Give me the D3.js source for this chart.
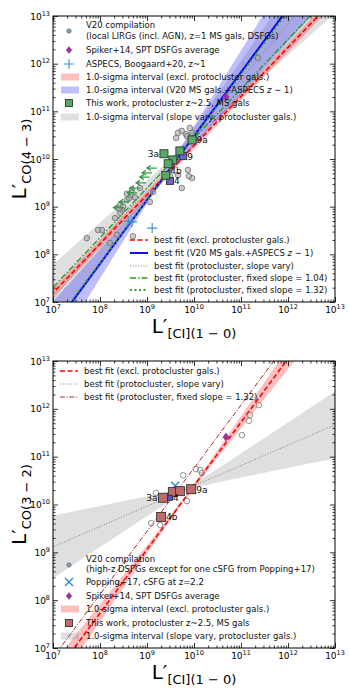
<!DOCTYPE html>
<html><head><meta charset="utf-8">
<script src="https://cdn.jsdelivr.net/npm/d3@7"></script>
<style>
body{margin:0;background:#fff}
svg{display:block;font-family:"DejaVu Sans",sans-serif}
</style></head><body>
<svg id="chart" width="349" height="698"></svg>
<script>
// all values are log10 of L' (K km/s pc^2)
const decades = [7, 8, 9, 10, 11, 12, 13];

// ---- top panel: CO(4-3) vs [CI](1-0)
const v20TopCI = [11.36, 9.96, 9.66, 9.74, 9.83, 9.91, 9.62, 9.87, 9.96, 9.74, 9.66, 9.89, 9.49, 9.13, 8.68, 8.85, 8.57, 8.57, 9.06, 8.43, 8.47, 8.49, 8.43, 8.32, 8.04, 7.96, 7.72, 8.21, 8.36, 8.70, 8.62, 8.66, 8.74, 8.40, 9.85, 10.00];
const v20TopCO = [12.12, 10.55, 10.55, 10.59, 10.52, 10.65, 10.44, 9.77, 9.60, 9.39, 9.66, 9.64, 9.64, 9.31, 9.35, 9.39, 9.27, 9.14, 9.10, 9.04, 8.93, 9.00, 8.87, 8.76, 8.51, 8.51, 8.34, 8.24, 8.41, 8.38, 9.18, 9.24, 9.20, 8.96, 10.48, 10.42];
const aspecsCI = [8.60, 8.68, 9.11];
const aspecsCO = [8.70, 8.68, 8.55];
const spikerTop = [10.68, 11.30];
const pcTopNames = ["9a", "3a", "", "", "", "4b"];
const pcTopCI = [9.96, 9.36, 9.70, 9.55, 9.45, 9.40];
const pcTopCO = [10.40, 10.11, 10.17, 9.98, 9.90, 9.66];
const msTopNames = ["9", "4"];
const msTopCI = [9.77, 9.49];
const msTopCO = [10.06, 9.54];
const ulTopCI = [9.21, 9.11, 9.06, 8.98, 8.85, 8.79, 8.62, 8.50];
const ulTopCO = [9.81, 9.71, 9.62, 9.50, 9.39, 9.29, 9.10, 8.98];

// fits: slope, intercept; bands: pivot, sigma slope, sigma intercept
const fitExclTop = [1.03, -0.02];
const fitV20Top = [1.34, -2.92];
const fitVaryTop = [1.15, -0.97];
const fitFix104Top = [1.04, 0.03];
const fitFix132Top = [1.32, -2.74];
const bandExclTop = [10.0, 0.02, 0.08];
const bandV20Top = [9.2, 0.25, 0.06];
const bandVaryTop = [9.6, 0.27, 0.05];

// ---- bottom panel: CO(3-2) vs [CI](1-0)
const v20BotCI = [11.38, 11.19, 11.17, 11.02, 9.77, 10.04, 10.13, 10.17, 9.85, 9.19, 9.09, 9.28];
const v20BotCO = [12.08, 11.87, 11.75, 11.45, 10.61, 10.74, 10.72, 10.66, 10.07, 10.24, 9.61, 9.57];
const poppingBot = [9.60, 10.39];
const spikerBot = [10.68, 11.41];
const pcBotNames = ["3a", "", "", "9a", "4b"];
const pcBotCI = [9.34, 9.55, 9.70, 9.94, 9.30];
const pcBotCO = [10.14, 10.26, 10.28, 10.32, 9.74];
const msBotNames = ["4"];
const msBotCI = [9.49];
const msBotCO = [10.14];

const fitExclBot = [1.33, -2.91];
const fitVaryBot = [0.425, 6.14];
const fitFix132Bot = [1.32, -2.44];
const bandExclBot = [9.8, 0.10, 0.04];
const bandVaryBot = [9.9, 0.225, 0.05];

const svg = d3.select("#chart");
const X0 = 53, X1 = 335;
const LFS = 8.5; // legend font size

function makePanel(top, bottom, id) {
  const x = d3.scaleLog().domain([1e7, 1e13]).range([X0, X1]);
  const y = d3.scaleLog().domain([1e7, 1e13]).range([bottom, top]);
  const g = svg.append("g");
  svg.append("clipPath").attr("id", id).append("rect")
    .attr("x", X0).attr("y", top).attr("width", X1 - X0).attr("height", bottom - top);
  const plot = g.append("g").attr("clip-path", `url(#${id})`);
  return {x, y, g, plot, top, bottom};
}

function drawBand(p, fit, band, fill) {
  const xs = d3.range(6.8, 13.25, 0.05);
  const c = v => fit[0] * v + fit[1];
  const s = v => Math.sqrt(Math.pow(band[1] * (v - band[0]), 2) + band[2] * band[2]);
  p.plot.append("path")
    .datum(xs)
    .attr("d", d3.area()
      .x(v => p.x(Math.pow(10, v)))
      .y0(v => p.y(Math.pow(10, c(v) - s(v))))
      .y1(v => p.y(Math.pow(10, c(v) + s(v)))))
    .attr("fill", fill).attr("stroke", "none");
}

function drawFit(p, fit, style) {
  const xs = [6.5, 13.5];
  p.plot.append("path")
    .datum(xs)
    .attr("d", d3.line()
      .x(v => p.x(Math.pow(10, v)))
      .y(v => p.y(Math.pow(10, fit[0] * v + fit[1]))))
    .attr("fill", "none")
    .attr("stroke", style.color)
    .attr("stroke-width", style.width)
    .attr("stroke-dasharray", style.dash || null);
}

function circles(p, xs, ys, fill, stroke, r) {
  p.plot.selectAll(null).data(xs).enter().append("circle")
    .attr("cx", (d) => p.x(Math.pow(10, d)))
    .attr("cy", (d, i) => p.y(Math.pow(10, ys[i])))
    .attr("r", r)
    .attr("fill", fill)
    .attr("stroke", stroke)
    .attr("stroke-width", 0.8);
}

function squares(p, xs, ys, names, fill, size, labelLeft, labelUp) {
  const sel = p.plot.selectAll(null).data(xs).enter();
  sel.append("rect")
    .attr("x", (d) => p.x(Math.pow(10, d)) - size / 2)
    .attr("y", (d, i) => p.y(Math.pow(10, ys[i])) - size / 2)
    .attr("width", size).attr("height", size)
    .attr("fill", fill).attr("stroke", "#333").attr("stroke-width", 0.9);
  sel.append("text")
    .attr("x", (d, i) => p.x(Math.pow(10, d)) + (labelLeft.includes(names[i]) ? -size / 2 - 1 : size / 2 + 0.5))
    .attr("y", (d, i) => p.y(Math.pow(10, ys[i])) + (labelUp.includes(names[i]) ? -1 : 3.5))
    .attr("text-anchor", (d, i) => labelLeft.includes(names[i]) ? "end" : "start")
    .attr("font-size", 9).attr("fill", "#111")
    .text((d, i) => names[i]);
}

function crossPlus(p, xs, ys, color) {
  p.plot.selectAll(null).data(xs).enter().append("path")
    .attr("d", (d, i) => {
      const cx = p.x(Math.pow(10, d)), cy = p.y(Math.pow(10, ys[i]));
      return `M${cx - 5},${cy}H${cx + 5}M${cx},${cy - 5}V${cy + 5}`;
    })
    .attr("stroke", color).attr("stroke-width", 1.1).attr("fill", "none");
}

function diamond(g, cx, cy, r, color) {
  g.append("path")
    .attr("d", `M${cx},${cy - r}L${cx + r * 0.8},${cy}L${cx},${cy + r}L${cx - r * 0.8},${cy}Z`)
    .attr("fill", color).attr("stroke", color).attr("stroke-width", 0.5);
}

function xMark(g, cx, cy, r, color) {
  g.append("path")
    .attr("d", `M${cx - r},${cy - r}L${cx + r},${cy + r}M${cx - r},${cy + r}L${cx + r},${cy - r}`)
    .attr("stroke", color).attr("stroke-width", 1.4).attr("fill", "none");
}

function upperLimits(p, xs, ys, color) {
  p.plot.selectAll(null).data(xs).enter().append("path")
    .attr("d", (d, i) => {
      const cx = p.x(Math.pow(10, d)), cy = p.y(Math.pow(10, ys[i]));
      return `M${cx},${cy}H${cx - 9}M${cx - 6},${cy - 2.5}L${cx - 10},${cy}L${cx - 6},${cy + 2.5}`;
    })
    .attr("stroke", color).attr("stroke-width", 1.3).attr("fill", "none");
}

function drawAxes(p) {
  const majors = decades.map(d => Math.pow(10, d));
  const minors = [];
  decades.slice(0, -1).forEach(d => { for (let k = 2; k < 10; k++) minors.push(k * Math.pow(10, d)); });
  const specs = [
    [d3.axisBottom(p.x), `translate(0,${p.bottom})`],
    [d3.axisTop(p.x), `translate(0,${p.top})`],
    [d3.axisLeft(p.y), `translate(${X0},0)`],
    [d3.axisRight(p.y), `translate(${X1},0)`]
  ];
  specs.forEach(([ax, tr]) => {
    [[majors, 5], [minors, 2.5]].forEach(([vals, len]) => {
      const a = p.g.append("g").attr("transform", tr)
        .call(ax.tickValues(vals).tickSize(-len).tickFormat(""));
      a.select(".domain").remove();
      a.selectAll("line").attr("stroke", "#000").attr("stroke-width", 0.8);
    });
  });
  p.g.append("rect").attr("x", X0).attr("y", p.top).attr("width", X1 - X0)
    .attr("height", p.bottom - p.top).attr("fill", "none").attr("stroke", "#000").attr("stroke-width", 1);

  // tick labels
  decades.forEach(d => {
    const tx = p.g.append("text").attr("x", p.x(Math.pow(10, d))).attr("y", p.bottom + 11)
      .attr("text-anchor", "middle").attr("font-size", 9);
    tx.append("tspan").text("10");
    tx.append("tspan").attr("dy", -4).attr("font-size", 6.5).text(d);
    const ty = p.g.append("text").attr("x", X0 - 3).attr("y", p.y(Math.pow(10, d)) + 3.5)
      .attr("text-anchor", "end").attr("font-size", 9);
    ty.append("tspan").text("10");
    ty.append("tspan").attr("dy", -4).attr("font-size", 6.5).text(d);
  });
}

function axisTitles(p, ysub) {
  const xt = p.g.append("text").attr("x", 194).attr("y", p.bottom + 31)
    .attr("text-anchor", "middle").attr("font-size", 20);
  xt.append("tspan").text("L′");
  xt.append("tspan").attr("font-size", 13).attr("dy", 5).text("[CI](1 − 0)");
  const cy = (p.top + p.bottom) / 2;
  const yt = p.g.append("text").attr("transform", `translate(26,${cy}) rotate(-90)`)
    .attr("text-anchor", "middle").attr("font-size", 20);
  yt.append("tspan").text("L′");
  yt.append("tspan").attr("font-size", 13).attr("dy", 5).text(ysub);
}

function legendText(g, x, y, txt) {
  return g.append("text").attr("x", x).attr("y", y + 3).attr("font-size", LFS).attr("fill", "#111").text(txt);
}
function legendLine(g, x, y, style, txt) {
  g.append("line").attr("x1", x).attr("x2", x + 18).attr("y1", y).attr("y2", y)
    .attr("stroke", style.color).attr("stroke-width", style.width)
    .attr("stroke-dasharray", style.dash || null);
  return legendText(g, x + 24, y, txt);
}
function legendPatch(g, x, y, fill, txt) {
  g.append("rect").attr("x", x).attr("y", y - 3.5).attr("width", 18).attr("height", 7).attr("fill", fill);
  return legendText(g, x + 25, y, txt);
}
function zText(t, before, after) {
  t.text(null);
  t.append("tspan").text(before);
  t.append("tspan").attr("font-style", "italic").text("z");
  t.append("tspan").text(after);
}

const RED = {color: "#ff0000", width: 1.6, dash: "5,2.6"};
const BLUE = {color: "#0000ff", width: 1.9};
const GRAYDOT = {color: "#808080", width: 1, dash: "1,1.7"};
const GREENDD = {color: "#22992b", width: 1.3, dash: "6,2,1.5,2"};
const GREENDOT = {color: "#2ca02c", width: 1.9, dash: "1.9,2.6"};
const DARKRED = {color: "#b22222", width: 1, dash: "5,1.6,1,1.6"};
const PINK = "rgba(255,0,0,0.25)";
const BLUEBAND = "rgba(0,0,255,0.25)";
const GRAYBAND = "rgba(128,128,128,0.25)";

// ================= top panel
const pt = makePanel(16, 302, "clipTop");
drawBand(pt, fitVaryTop, bandVaryTop, GRAYBAND);
drawBand(pt, fitExclTop, bandExclTop, PINK);
drawBand(pt, fitV20Top, bandV20Top, BLUEBAND);
drawFit(pt, fitVaryTop, GRAYDOT);
drawFit(pt, fitFix104Top, GREENDD);
drawFit(pt, fitExclTop, RED);
drawFit(pt, fitV20Top, BLUE);
drawFit(pt, fitFix132Top, GREENDOT);
circles(pt, v20TopCI, v20TopCO, "rgba(170,170,170,0.6)", "#6e6e6e", 2.8);
crossPlus(pt, aspecsCI, aspecsCO, "#3c8fd6");
diamond(pt.plot, pt.x(Math.pow(10, spikerTop[0])), pt.y(Math.pow(10, spikerTop[1])), 4, "#993399");
upperLimits(pt, ulTopCI, ulTopCO, "#3a9a4a");
squares(pt, msTopCI, msTopCO, msTopNames, "#6666cc", 7, [], []);
squares(pt, pcTopCI, pcTopCO, pcTopNames, "#55aa66", 8, ["3a"], ["4b"]);
drawAxes(pt);
axisTitles(pt, "CO(4 − 3)");

const lt = pt.g.append("g");
circles({plot: lt, x: () => 69, y: () => 31}, [0], [0], "#7f9fc0", "#777", 2.2);
legendText(lt, 86, 25, "V20 compilation");
legendText(lt, 86, 36, "(local LIRGs (incl. AGN), z=1 MS gals, DSFGs)");
diamond(lt, 69, 50, 3.5, "#993399");
legendText(lt, 86, 50, "Spiker+14, SPT DSFGs average");
lt.append("path").attr("d", "M64,64H74M69,59V69").attr("stroke", "#3c8fd6").attr("stroke-width", 1.1);
legendText(lt, 86, 64, "ASPECS, Boogaard+20, z~1");
legendPatch(lt, 61, 77, PINK, "1.0-sigma interval (excl. protocluster gals.)");
zText(legendPatch(lt, 61, 90, BLUEBAND, ""), "1.0-sigma interval (V20 MS gals.+ASPECS ", " ∼ 1)");
lt.append("rect").attr("x", 65.5).attr("y", 99.5).attr("width", 7).attr("height", 7)
  .attr("fill", "#55aa66").attr("stroke", "#333").attr("stroke-width", 0.9);
legendText(lt, 86, 103, "This work, protocluster z~2.5, MS gals");
legendPatch(lt, 61, 117, GRAYBAND, "1.0-sigma interval (slope vary, protocluster gals.)");

const lt2 = pt.g.append("g");
legendLine(lt2, 130, 240, RED, "best fit (excl. protocluster gals.)");
zText(legendLine(lt2, 130, 253, BLUE, ""), "best fit (V20 MS gals.+ASPECS ", " ∼ 1)");
legendLine(lt2, 130, 266, GRAYDOT, "best fit (protocluster, slope vary)");
legendLine(lt2, 130, 278, GREENDD, "best fit (protocluster, fixed slope = 1.04)");
legendLine(lt2, 130, 290, GREENDOT, "best fit (protocluster, fixed slope = 1.32)");

// ================= bottom panel
const pb = makePanel(361, 648, "clipBot");
drawBand(pb, fitVaryBot, bandVaryBot, GRAYBAND);
drawBand(pb, fitExclBot, bandExclBot, PINK);
drawFit(pb, fitVaryBot, GRAYDOT);
drawFit(pb, fitFix132Bot, DARKRED);
drawFit(pb, fitExclBot, RED);
circles(pb, v20BotCI, v20BotCO, "rgba(255,255,255,0.3)", "#777", 2.8);
xMark(pb.plot, pb.x(Math.pow(10, poppingBot[0])), pb.y(Math.pow(10, poppingBot[1])), 4, "#2f86d6");
diamond(pb.plot, pb.x(Math.pow(10, spikerBot[0])), pb.y(Math.pow(10, spikerBot[1])), 4, "#993399");
squares(pb, pcBotCI, pcBotCO, pcBotNames, "#c06a6a", 9, ["3a"], []);
squares(pb, msBotCI, msBotCO, msBotNames, "#5555cc", 5, [], []);
drawAxes(pb);
axisTitles(pb, "CO(3 − 2)");

const lb = pb.g.append("g");
legendLine(lb, 60, 371, RED, "best fit (excl. protocluster gals.)");
legendLine(lb, 60, 384, GRAYDOT, "best fit (protocluster, slope vary)");
legendLine(lb, 60, 397, DARKRED, "best fit (protocluster, fixed slope = 1.32)");

const lb2 = pb.g.append("g");
circles({plot: lb2, x: () => 69, y: () => 565}, [0], [0], "#7f9fc0", "#777", 2.2);
legendText(lb2, 86, 559, "V20 compilation");
legendText(lb2, 86, 569, "(high-z DSFGs except for one cSFG from Popping+17)");
xMark(lb2, 69, 582, 4, "#2f86d6");
legendText(lb2, 86, 582, "Popping+17, cSFG at z=2.2");
diamond(lb2, 69, 596, 3.5, "#993399");
legendText(lb2, 86, 596, "Spiker+14, SPT DSFGs average");
legendPatch(lb2, 61, 609, PINK, "1.0-sigma interval (excl. protocluster gals.)");
lb2.append("rect").attr("x", 65.5).attr("y", 619.5).attr("width", 7).attr("height", 7)
  .attr("fill", "#c06a6a").attr("stroke", "#333").attr("stroke-width", 0.9);
legendText(lb2, 86, 623, "This work, protocluster z~2.5, MS gals");
legendPatch(lb2, 61, 636, GRAYBAND, "1.0-sigma interval (slope vary, protocluster gals.)");
</script>
</body></html>
